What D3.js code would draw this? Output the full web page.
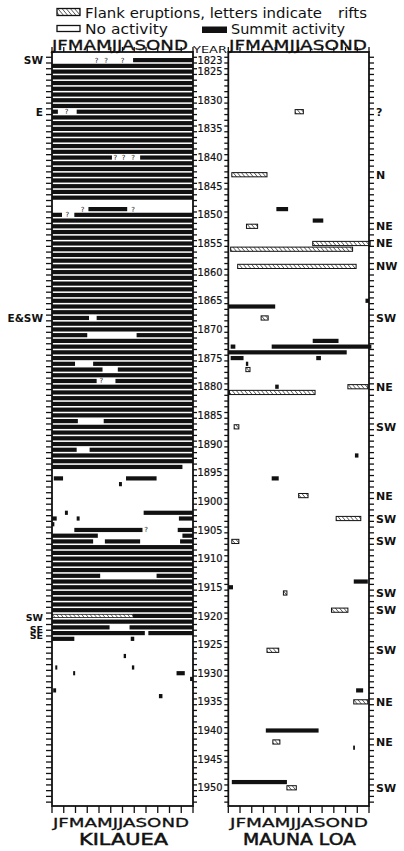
<!DOCTYPE html>
<html>
<head>
<meta charset="utf-8">
<script src="https://cdn.jsdelivr.net/npm/d3@7"></script>
<style>
  body { margin: 0; background: #fff; }
  svg { display: block; }
  text { font-family: "DejaVu Sans", sans-serif; fill: #111; }
</style>
</head>
<body>
<svg id="chart" width="404" height="851"></svg>
<script>
// ---- data ----
const months = ["J", "F", "M", "A", "M", "J", "J", "A", "S", "O", "N", "D"];
const yearLabels = [1823, 1825, 1830, 1835, 1840, 1845, 1850, 1855, 1860, 1865, 1870, 1875,
  1880, 1885, 1890, 1895, 1900, 1905, 1910, 1915, 1920, 1925, 1930, 1935, 1940, 1945, 1950];
const tickYears = d3.range(1822, 1954); // one tick per year row

// Kilauea summit activity periods: [startYear, startMonth, endYear, endMonth] (months 0-12)
const kilaueaSummit = [
  [1823, 6.9, 1832, 0.5], [1832, 2.1, 1840, 5.1], [1840, 7.5, 1848, 0],
  [1849, 3.1, 1849, 6.4], [1850, 0, 1850, 0.85], [1850, 1.9, 1868, 3.15],
  [1868, 3.8, 1871, 3.0], [1871, 7.2, 1876, 1.96], [1876, 3.5, 1877, 4.3],
  [1877, 5.6, 1879, 3.8], [1879, 5.4, 1886, 2.2], [1886, 4.4, 1891, 2.1],
  [1891, 3.2, 1894, 11.1], [1896, 0.15, 1896, 0.94], [1896, 6.3, 1896, 8.9],
  [1897, 5.7, 1897, 5.95], [1902, 1.1, 1902, 1.35], [1902, 7.8, 1903, 0.4],
  [1903, 2.1, 1903, 2.35], [1903, 10.8, 1904, 0.2], [1905, 1.9, 1905, 7.7],
  [1905, 10.7, 1906, 3.9], [1906, 11.1, 1907, 3.5], [1907, 4.5, 1907, 7.5],
  [1907, 10.9, 1913, 4.1], [1913, 8.9, 1920, 0], [1920, 6.9, 1922, 4.9],
  [1922, 6.6, 1923, 7.9], [1923, 8.2, 1924, 1.9], [1924, 6.7, 1924, 7.0],
  [1927, 6.1, 1927, 6.3], [1929, 0.28, 1929, 0.45], [1929, 6.8, 1929, 7.0],
  [1930, 1.8, 1930, 1.97], [1930, 10.6, 1930, 11.3], [1931, 11.75, 1931, 12],
  [1933, 0.1, 1933, 0.35], [1934, 9.1, 1934, 9.4]
];
const kilaueaFlank = [[1920, 0, 6.9]];
const kilaueaQuery = [[1823, 3.8], [1823, 4.6], [1823, 6.0], [1832, 1.25], [1840, 5.4], [1840, 6.1],
  [1840, 6.9], [1849, 2.6], [1849, 6.9], [1850, 1.3], [1879, 4.2], [1905, 8.0]];
const kilaueaRifts = [[1823, "SW"], [1832, "E"], [1868, "E\u0026SW"], [1920, "SW"], [1922, "SE"], [1923, "SE"]];

// Mauna Loa: [year, startMonth, endMonth]
const maunaLoaSummit = [
  [1849, 4.1, 5.1], [1851, 7.2, 8.1], [1865, 11.7, 12], [1866, 0, 4.0], [1872, 7.2, 9.4],
  [1873, 0.2, 0.6], [1873, 3.7, 12.2], [1874, 0, 10.1], [1875, 0.2, 1.3], [1875, 7.5, 7.9],
  [1876, 1.5, 1.7], [1880, 4.0, 4.3], [1892, 10.8, 11.1], [1896, 3.7, 4.3], [1914, 10.7, 11.9],
  [1915, 0, 0.4], [1933, 10.9, 11.5], [1940, 3.2, 7.7], [1943, 10.65, 10.8], [1949, 0.3, 5.0]
];
const maunaLoaFlank = [
  [1832, 5.7, 6.4], [1843, 0.3, 3.3], [1852, 1.55, 2.5], [1855, 7.2, 12.1], [1856, 0.2, 10.6],
  [1859, 0.8, 10.9], [1868, 2.8, 3.4], [1877, 1.5, 1.85], [1880, 10.2, 11.9], [1881, 0.1, 7.4],
  [1887, 0.5, 0.9], [1899, 6.0, 6.8], [1903, 9.2, 11.3], [1907, 0.3, 0.9], [1916, 4.7, 5.0],
  [1919, 8.8, 10.2], [1926, 3.3, 4.3], [1935, 10.7, 11.9], [1942, 3.8, 4.4], [1950, 5.0, 5.8]
];
const maunaLoaRifts = [[1832, "?"], [1843, "N"], [1852, "NE"], [1855, "NE"], [1859, "NW"], [1868, "SW"],
  [1880, "NE"], [1887, "SW"], [1899, "NE"], [1903, "SW"], [1907, "SW"], [1916, "SW"], [1919, "SW"],
  [1926, "SW"], [1935, "NE"], [1942, "NE"], [1950, "SW"]];

// ---- layout ----
const svg = d3.select("#chart");
const y = d3.scaleLinear().domain([1832, 1950]).range([111.7, 787.8]);
const xK = d3.scaleLinear().domain([0, 12]).range([52, 193]);
const xM = d3.scaleLinear().domain([0, 12]).range([228.3, 369]);
const plotTop = 52, plotBottom = 806;
const barH = 4.2;

// hatch pattern for flank eruptions
const defs = svg.append("defs");
defs.append("pattern")
  .attr("id", "hatch")
  .attr("patternUnits", "userSpaceOnUse")
  .attr("width", 3.2).attr("height", 3.2)
  .attr("patternTransform", "rotate(-40)")
  .append("line")
  .attr("x1", 0).attr("y1", 0).attr("x2", 0).attr("y2", 3.2)
  .attr("stroke", "#111").attr("stroke-width", 1.1);

// ---- legend ----
const legend = svg.append("g");
legend.append("rect").attr("x", 57).attr("y", 8.5).attr("width", 23).attr("height", 7)
  .attr("fill", "url(#hatch)").attr("stroke", "#111").attr("stroke-width", 1.3);
legend.append("text").attr("x", 85).attr("y", 17.5).attr("font-size", 14)
  .attr("textLength", 237).attr("lengthAdjust", "spacingAndGlyphs")
  .text("Flank eruptions, letters indicate");
legend.append("text").attr("x", 338).attr("y", 17.5).attr("font-size", 14)
  .attr("textLength", 29).attr("lengthAdjust", "spacingAndGlyphs").text("rifts");
legend.append("rect").attr("x", 57).attr("y", 25.5).attr("width", 23).attr("height", 6)
  .attr("fill", "#fff").attr("stroke", "#111").attr("stroke-width", 1.3);
legend.append("text").attr("x", 85).attr("y", 34).attr("font-size", 14)
  .attr("textLength", 83).attr("lengthAdjust", "spacingAndGlyphs").text("No activity");
legend.append("rect").attr("x", 202).attr("y", 26.5).attr("width", 25).attr("height", 6.5)
  .attr("fill", "#111");
legend.append("text").attr("x", 231).attr("y", 34).attr("font-size", 14)
  .attr("textLength", 114).attr("lengthAdjust", "spacingAndGlyphs").text("Summit activity");

// ---- panels ----
function drawFrame(x, tickSide) {
  const g = svg.append("g");
  const [x0, x1] = x.range();
  // month ticks top and bottom
  d3.range(13).forEach(m => {
    g.append("line").attr("x1", x(m)).attr("x2", x(m)).attr("y1", plotTop - 5).attr("y2", plotTop)
      .attr("stroke", "#111").attr("stroke-width", 1.3);
    g.append("line").attr("x1", x(m)).attr("x2", x(m)).attr("y1", plotBottom).attr("y2", plotBottom + 7)
      .attr("stroke", "#111").attr("stroke-width", 1.3);
  });
  // year ticks on both sides
  tickYears.forEach(yr => {
    const yy = y(yr - 0.5);
    if (yy < plotTop || yy > plotBottom) return;
    g.append("line").attr("x1", x0 - tickSide[0]).attr("x2", x0).attr("y1", yy).attr("y2", yy)
      .attr("stroke", "#111").attr("stroke-width", 1.3);
    g.append("line").attr("x1", x1).attr("x2", x1 + tickSide[1]).attr("y1", yy).attr("y2", yy)
      .attr("stroke", "#111").attr("stroke-width", 1.3);
  });
  g.append("rect").attr("x", x0).attr("y", plotTop).attr("width", x1 - x0).attr("height", plotBottom - plotTop)
    .attr("fill", "none").attr("stroke", "#111").attr("stroke-width", 1.8);
  return g;
}

const gK = svg.append("g");
const gM = svg.append("g");

// Kilauea summit rows, split per year
kilaueaSummit.forEach(([sy, sm, ey, em]) => {
  for (let yr = sy; yr <= ey; yr++) {
    const s = yr === sy ? sm : 0;
    const e = yr === ey ? em : 12;
    if (e <= s) continue;
    gK.append("rect")
      .attr("x", xK(s)).attr("y", y(yr) - barH / 2)
      .attr("width", xK(e) - xK(s)).attr("height", barH)
      .attr("fill", "#111");
  }
});
kilaueaFlank.forEach(([yr, s, e]) => {
  gK.append("rect")
    .attr("x", xK(s)).attr("y", y(yr) - barH / 2 + 0.5)
    .attr("width", xK(e) - xK(s)).attr("height", barH - 1)
    .attr("fill", "url(#hatch)").attr("stroke", "#111").attr("stroke-width", 0.8);
});
kilaueaQuery.forEach(([yr, m]) => {
  gK.append("text").attr("x", xK(m)).attr("y", y(yr) + 2.5)
    .attr("font-size", 7).attr("text-anchor", "middle").text("?");
});

// Mauna Loa
maunaLoaSummit.forEach(([yr, s, e]) => {
  gM.append("rect")
    .attr("x", xM(s)).attr("y", y(yr) - barH / 2)
    .attr("width", Math.max(1.5, xM(e) - xM(s))).attr("height", barH)
    .attr("fill", "#111");
});
maunaLoaFlank.forEach(([yr, s, e]) => {
  gM.append("rect")
    .attr("x", xM(s)).attr("y", y(yr) - barH / 2)
    .attr("width", xM(e) - xM(s)).attr("height", barH)
    .attr("fill", "url(#hatch)").attr("stroke", "#111").attr("stroke-width", 1);
});

drawFrame(xK, [6, 4]);
drawFrame(xM, [4, 5]);

// ---- month labels ----
[[52, 136], [229, 138]].forEach(([left, w]) => {
  svg.append("text").attr("x", left).attr("y", 49.5).attr("font-size", 13.5)
    .attr("stroke", "#111").attr("stroke-width", 0.3)
    .attr("textLength", w).attr("lengthAdjust", "spacingAndGlyphs").text(months.join(""));
  svg.append("text").attr("x", left + 1).attr("y", 826.5).attr("font-size", 12.5)
    .attr("stroke", "#111").attr("stroke-width", 0.3)
    .attr("textLength", w).attr("lengthAdjust", "spacingAndGlyphs").text(months.join(""));
});
svg.append("text").attr("x", 193).attr("y", 53).attr("font-size", 9)
  .attr("textLength", 34).attr("lengthAdjust", "spacingAndGlyphs").text("YEAR");

// ---- year labels ----
svg.append("g").selectAll("text").data(yearLabels).join("text")
  .attr("x", 210).attr("y", d => y(d) + 3.6)
  .attr("font-size", 10).attr("text-anchor", "middle")
  .attr("stroke", "#111").attr("stroke-width", 0.2)
  .attr("textLength", 25).attr("lengthAdjust", "spacingAndGlyphs")
  .text(d => d);

// ---- rift letters ----
svg.append("g").selectAll("text").data(kilaueaRifts).join("text")
  .attr("x", 43).attr("y", d => y(d[0]) + (d[0] > 1900 ? 5.5 : 4))
  .attr("font-size", d => d[0] > 1900 ? 9.5 : 10.5)
  .attr("font-weight", "bold").attr("text-anchor", "end")
  .text(d => d[1]);
svg.append("g").selectAll("text").data(maunaLoaRifts).join("text")
  .attr("x", 376).attr("y", d => y(d[0]) + 4)
  .attr("font-size", 11).attr("font-weight", "bold")
  .text(d => d[1]);

// ---- titles ----
svg.append("text").attr("x", 79).attr("y", 844.5).attr("font-size", 15.5)
  .attr("stroke", "#111").attr("stroke-width", 0.5)
  .attr("textLength", 89).attr("lengthAdjust", "spacingAndGlyphs").text("KILAUEA");
svg.append("text").attr("x", 243).attr("y", 844.5).attr("font-size", 15.5)
  .attr("stroke", "#111").attr("stroke-width", 0.5)
  .attr("textLength", 113).attr("lengthAdjust", "spacingAndGlyphs").text("MAUNA LOA");
</script>
</body>
</html>
